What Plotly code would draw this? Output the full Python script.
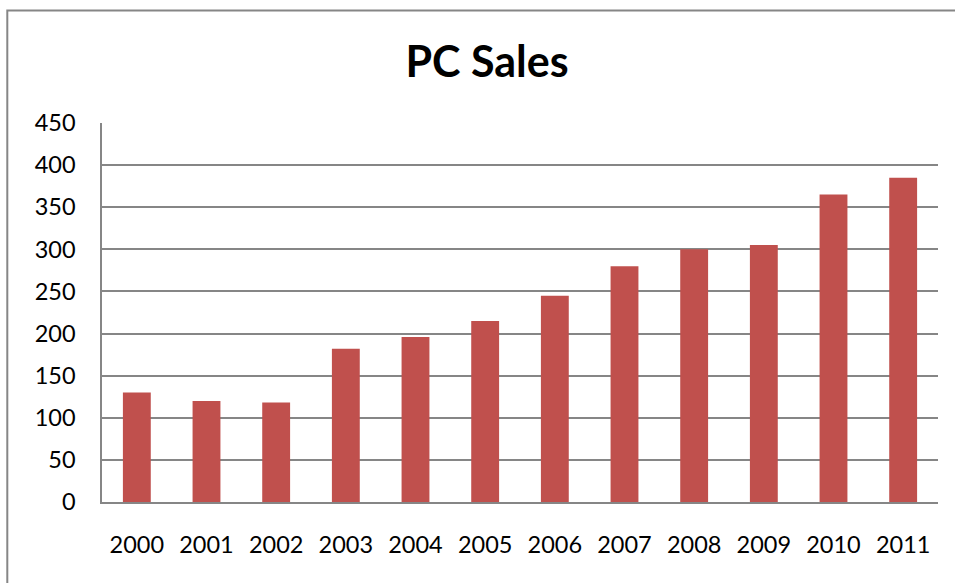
import plotly.graph_objects as go

# PC sales per year
years = ["2000", "2001", "2002", "2003", "2004", "2005",
         "2006", "2007", "2008", "2009", "2010", "2011"]
sales = [130, 120, 118, 182, 196, 215, 245, 280, 300, 305, 365, 385]
y_ticks = [0, 50, 100, 150, 200, 250, 300, 350, 400, 450]

W, H = 955, 583
L, R, T, B = 101.7, 17.3, 123.3, 81.3
pw, ph = W - L - R, H - T - B

def px_to_paper_x(px):
    return (px - L) / pw

def px_to_paper_y(py):
    return (H - B - py) / ph

grid = "#868686"
font = "Lato, Carlito, Calibri, sans-serif"
tick_size = 23.5

fig = go.Figure(
    go.Bar(x=years, y=sales, marker=dict(color="#C0504D", line=dict(width=0)))
)

fig.update_layout(
    width=W,
    height=H,
    margin=dict(l=L, r=R, t=T, b=B, pad=0),
    paper_bgcolor="white",
    plot_bgcolor="white",
    bargap=0.6,
    showlegend=False,
    font=dict(family=font, size=tick_size, color="black"),
    title=dict(
        text="<b>PC Sales</b>",
        font=dict(family=font, size=43, color="black"),
        x=px_to_paper_x(486.7),
        xref="paper",
        xanchor="center",
        y=1 - 62 / H,
        yref="container",
        yanchor="middle",
    ),
    xaxis=dict(
        showgrid=False,
        showline=True,
        linecolor=grid,
        linewidth=1.5,
        ticks="",
        ticklabelstandoff=21,
        tickfont=dict(family=font, size=tick_size, color="black"),
    ),
    yaxis=dict(
        range=[0, 450],
        tickvals=y_ticks,
        showgrid=True,
        gridcolor=grid,
        gridwidth=1.5,
        zeroline=False,
        showline=True,
        linecolor=grid,
        linewidth=1.5,
        ticks="",
        ticklabelstandoff=20,
        tickfont=dict(family=font, size=tick_size, color="black"),
    ),
    shapes=[
        dict(
            type="rect",
            xref="paper",
            yref="paper",
            x0=px_to_paper_x(7),
            y0=px_to_paper_y(H + 20),
            x1=px_to_paper_x(W + 20),
            y1=px_to_paper_y(11),
            line=dict(color=grid, width=2),
            fillcolor="rgba(0,0,0,0)",
            layer="below",
        )
    ],
)

fig.write_html("out.html", config={"displayModeBar": False})
